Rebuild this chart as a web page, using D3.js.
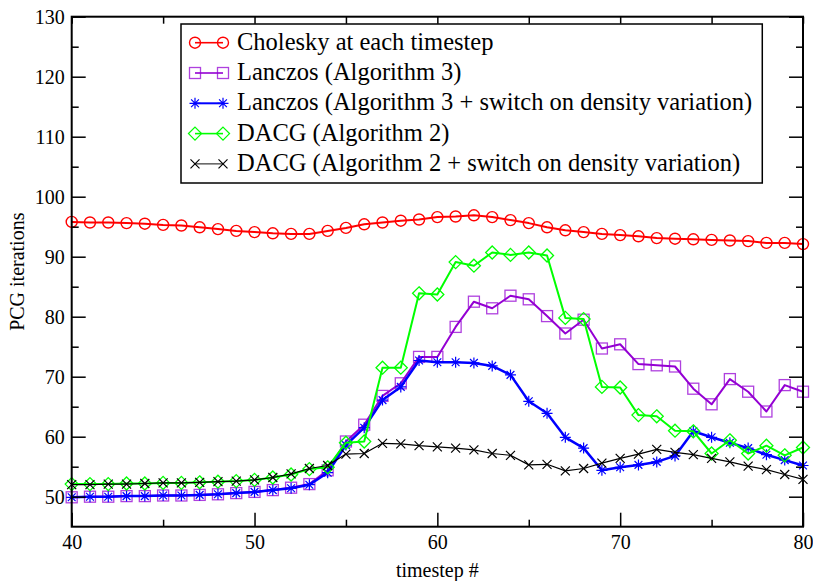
<!DOCTYPE html>
<html>
<head>
<meta charset="utf-8">
<script src="https://cdn.jsdelivr.net/npm/d3@7"></script>
<style>
  html, body { margin: 0; padding: 0; background: #fff; }
  svg { display: block; }
  text { font-family: "Liberation Serif", "Times New Roman", serif; fill: #000; }
</style>
</head>
<body>
<svg id="chart" width="813" height="581"></svg>
<script>
const timesteps = d3.range(40, 81);
const cholesky = [95.8,95.7,95.7,95.6,95.5,95.3,95.2,94.9,94.6,94.3,94.1,93.9,93.8,93.8,
  94.3,94.8,95.4,95.7,96.0,96.2,96.6,96.7,96.9,96.6,96.1,95.6,94.9,
  94.4,94.1,93.8,93.6,93.4,93.1,93.0,92.9,92.8,92.7,92.6,92.3,92.3,92.1];
const lanczos = [49.9,50.0,50.0,50.1,50.1,50.2,50.2,50.3,50.4,50.6,50.8,51.1,51.5,52.1,
  54.4,59.2,62.0,66.8,68.9,73.3,73.3,78.3,82.5,81.4,83.5,82.9,80.1,
  77.2,79.5,74.7,75.4,72.1,71.9,71.7,68.0,65.4,69.6,67.5,64.2,68.6,67.5];
const lanczosSwitch = [49.9,50.0,50.0,50.1,50.1,50.2,50.2,50.3,50.4,50.6,50.8,51.1,51.4,52.0,
  54.0,58.6,61.5,66.1,68.3,72.7,72.4,72.4,72.3,71.8,70.3,65.9,63.9,
  59.9,58.1,54.4,54.9,55.3,55.8,56.8,60.9,59.9,59.0,58.1,57.0,56.1,55.2];
const dacg = [52.1,52.1,52.1,52.2,52.2,52.3,52.3,52.4,52.5,52.6,52.8,53.2,53.7,54.6,
  54.9,59.0,59.2,71.5,71.5,83.9,83.7,89.1,88.5,90.7,90.3,90.7,90.2,
  79.8,79.6,68.3,68.2,63.6,63.4,61.0,60.9,57.2,59.4,57.2,58.5,56.9,58.2];
const dacgSwitch = [52.0,52.0,52.1,52.1,52.2,52.3,52.3,52.4,52.5,52.6,52.8,53.2,53.8,54.7,
  55.2,57.1,57.2,58.9,58.8,58.5,58.3,58.1,57.8,57.2,56.9,55.3,55.4,
  54.3,54.7,55.6,56.4,57.1,57.9,57.4,57.0,56.4,55.8,55.1,54.5,53.7,52.9];

const seriesNames = [
  "Cholesky at each timestep",
  "Lanczos (Algorithm 3)",
  "Lanczos (Algorithm 3 + switch on density variation)",
  "DACG (Algorithm 2)",
  "DACG (Algorithm 2 + switch on density variation)"
];
const seriesValues = [cholesky, lanczos, lanczosSwitch, dacg, dacgSwitch];
const seriesColors = ["#ff0000", "#9400d3", "#0000ff", "#00ff00", "#000000"];
const seriesWidths = [2, 2, 2.5, 2, 1.2];
const seriesMarkers = ["circle", "square", "star", "diamond", "cross"];

const xMajorTicks = [40, 50, 60, 70, 80];
const xMinorTicks = [45, 55, 65, 75];
const yMajorTicks = [50, 60, 70, 80, 90, 100, 110, 120, 130];
const yMinorTicks = [55, 65, 75, 85, 95, 105, 115, 125];
const xTitle = "timestep #";
const yTitle = "PCG iterations";

const svg = d3.select("#chart");
const L = 71.7, R = 803, T = 16.7, B = 526.7;
const x = d3.scaleLinear().domain([40, 80]).range([L, R]);
const y = d3.scaleLinear().domain([45, 130]).range([B, T]);

// Series
const line = d3.line().x((d, i) => x(timesteps[i])).y(d => y(d));

function marker(g, type, color, cx, cy) {
  const s = g.append("g").attr("transform", `translate(${cx},${cy})`)
    .attr("fill", "none").attr("stroke", color);
  if (type === "circle") {
    s.append("circle").attr("r", 5.5).attr("stroke-width", 1.4);
  } else if (type === "square") {
    s.append("rect").attr("x", -5.5).attr("y", -5.5).attr("width", 11).attr("height", 11)
      .attr("stroke-width", 1.3).attr("stroke-opacity", 0.75);
  } else if (type === "diamond") {
    s.append("path").attr("d", "M0,-6.5L6.5,0L0,6.5L-6.5,0Z").attr("stroke-width", 1.3);
  } else if (type === "star") {
    const r = 5.5, q = r * 0.707;
    s.append("path").attr("d",
      `M0,${-r}L0,${r}M${-r},0L${r},0M${-q},${-q}L${q},${q}M${-q},${q}L${q},${-q}`)
      .attr("stroke-width", 1.2);
  } else if (type === "cross") {
    const r = 4.5;
    s.append("path").attr("d", `M${-r},${-r}L${r},${r}M${-r},${r}L${r},${-r}`)
      .attr("stroke-width", 1.2);
  }
}

const plot = svg.append("g");
seriesValues.forEach((vals, k) => {
  const g = plot.append("g");
  g.append("path").datum(vals).attr("d", line).attr("fill", "none")
    .attr("stroke", seriesColors[k]).attr("stroke-width", seriesWidths[k])
    .attr("stroke-linejoin", "round");
  vals.forEach((v, i) => marker(g, seriesMarkers[k], seriesColors[k], x(timesteps[i]), y(v)));
});

// Frame
svg.append("rect").attr("x", L).attr("y", T).attr("width", R - L).attr("height", B - T)
  .attr("fill", "none").attr("stroke", "#000").attr("stroke-width", 2);

// Axes via d3 axis generators (inward ticks)
function drawAxis(gen, transform, majors, minors, majLen, minLen, labels) {
  const gM = svg.append("g").attr("transform", transform)
    .call(gen.tickValues(majors).tickSizeInner(-majLen).tickSizeOuter(0)
      .tickFormat(labels ? d3.format("d") : () => ""));
  gM.select(".domain").remove();
  gM.selectAll(".tick line").attr("stroke", "#000").attr("stroke-width", 1.5);
  gM.selectAll(".tick text").style("font-family", '"Liberation Serif", serif')
    .style("font-size", "20px").attr("fill", "#000");
  const gm = svg.append("g").attr("transform", transform)
    .call(gen.tickValues(minors).tickSizeInner(-minLen).tickSizeOuter(0).tickFormat(() => ""));
  gm.select(".domain").remove();
  gm.selectAll(".tick line").attr("stroke", "#000").attr("stroke-width", 1.5);
  return gM;
}
const gx = drawAxis(d3.axisBottom(x), `translate(0,${B})`, xMajorTicks, xMinorTicks, 14, 7, true);
gx.selectAll(".tick text").attr("y", 22).attr("dy", 0);
drawAxis(d3.axisTop(x), `translate(0,${T})`, xMajorTicks, xMinorTicks, 7, 7, false);
const gy = drawAxis(d3.axisLeft(y), `translate(${L},0)`, yMajorTicks, yMinorTicks, 14, 7, true);
gy.selectAll(".tick text").attr("x", -7).attr("dy", "0.34em");
drawAxis(d3.axisRight(y), `translate(${R},0)`, yMajorTicks, yMinorTicks, 14, 7, false);

// Titles
svg.append("text").attr("x", (L + R) / 2).attr("y", 577).attr("text-anchor", "middle")
  .style("font-size", "20px").text(xTitle);
svg.append("text").attr("transform", `translate(24,${(T + B) / 2}) rotate(-90)`)
  .attr("text-anchor", "middle").style("font-size", "20px").text(yTitle);

// Legend
const legX = 181, legY = 24, rowH = 30.3, firstRow = 42.7;
const leg = svg.append("g");
const box = leg.append("rect").attr("x", legX).attr("y", legY).attr("height", 159)
  .attr("fill", "#fff").attr("stroke", "#000").attr("stroke-width", 1.5);
let maxW = 0;
seriesNames.forEach((name, k) => {
  const cy = firstRow + k * rowH;
  leg.append("line").attr("x1", 195).attr("x2", 223).attr("y1", cy).attr("y2", cy)
    .attr("stroke", seriesColors[k]).attr("stroke-width", seriesWidths[k] * 0.8);
  marker(leg, seriesMarkers[k], seriesColors[k], 195, cy);
  marker(leg, seriesMarkers[k], seriesColors[k], 223, cy);
  const t = leg.append("text").attr("x", 237).attr("y", cy + 7)
    .style("font-size", "24.5px").text(name);
  maxW = Math.max(maxW, t.node().getComputedTextLength());
});
box.attr("width", 237 + maxW + 10 - legX);
</script>
</body>
</html>
